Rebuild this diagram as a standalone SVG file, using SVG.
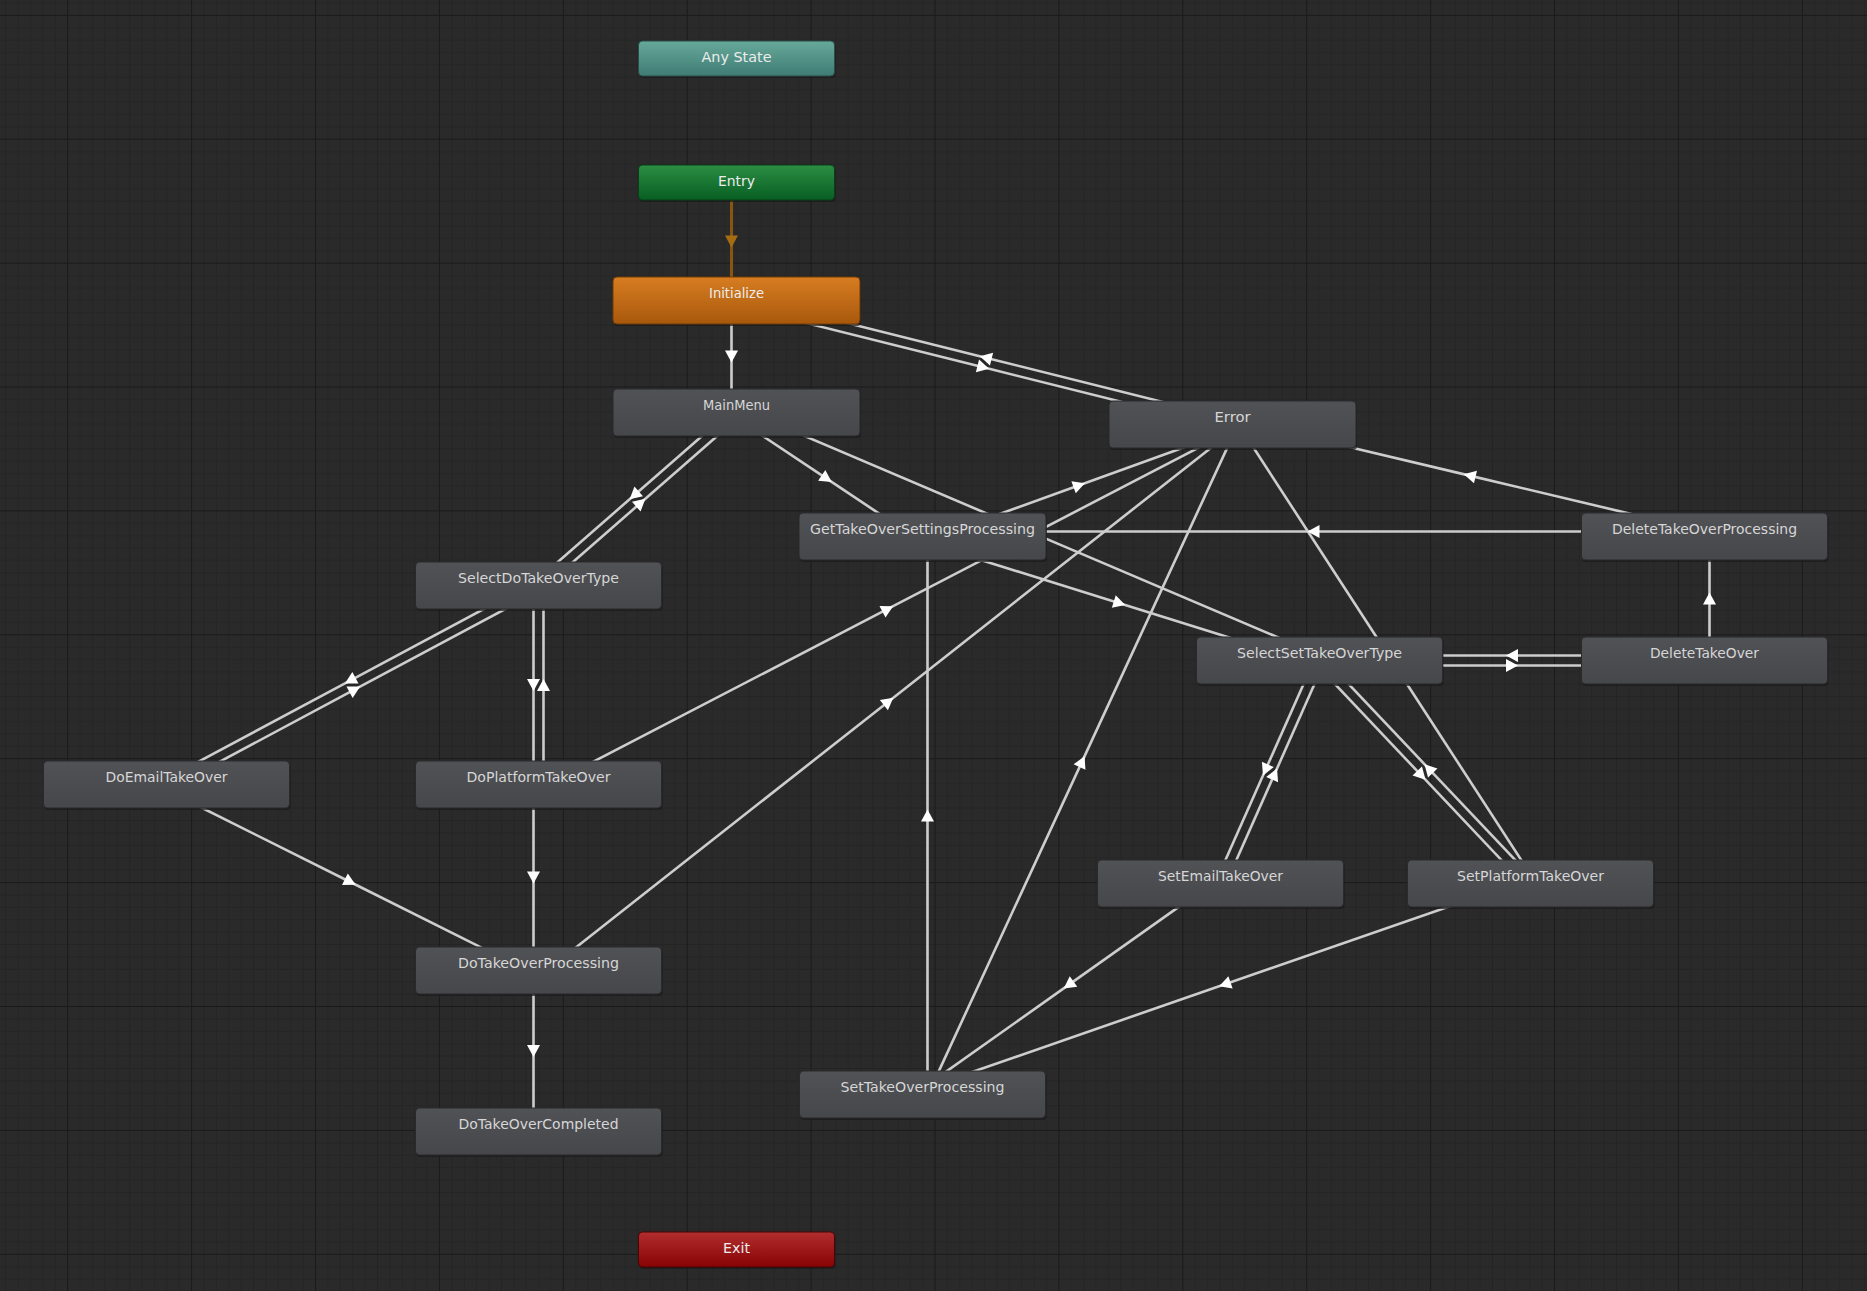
<svg xmlns="http://www.w3.org/2000/svg" width="1867" height="1291" viewBox="0 0 1867 1291">
  <defs>
    <!-- editor grid: major cell 123.9px, ten minor cells inside -->
    <pattern id="grid" patternUnits="userSpaceOnUse" x="67.2" y="14.8" width="123.9" height="123.9">
      <rect width="123.9" height="123.9" fill="#2a2a2a"/>
      <path d="M12.89,0V123.9M25.28,0V123.9M37.67,0V123.9M50.06,0V123.9M62.45,0V123.9M74.84,0V123.9M87.23,0V123.9M99.62,0V123.9M112.01,0V123.9M0,12.89H123.9M0,25.28H123.9M0,37.67H123.9M0,50.06H123.9M0,62.45H123.9M0,74.84H123.9M0,87.23H123.9M0,99.62H123.9M0,112.01H123.9" stroke="#242424" stroke-width="1"/>
      <path d="M0.5,0V123.9M0,0.5H123.9" stroke="#1a1a1a" stroke-width="1"/>
    </pattern>
    <linearGradient id="g-state" x1="0" y1="0" x2="0" y2="1">
      <stop offset="0" stop-color="#515256"/>
      <stop offset="1" stop-color="#46474b"/>
    </linearGradient>
    <linearGradient id="g-any" x1="0" y1="0" x2="0" y2="1">
      <stop offset="0" stop-color="#66a99a"/>
      <stop offset="1" stop-color="#3f7c74"/>
    </linearGradient>
    <linearGradient id="g-entry" x1="0" y1="0" x2="0" y2="1">
      <stop offset="0" stop-color="#2c8d43"/>
      <stop offset="1" stop-color="#075f23"/>
    </linearGradient>
    <linearGradient id="g-default" x1="0" y1="0" x2="0" y2="1">
      <stop offset="0" stop-color="#d77d22"/>
      <stop offset="1" stop-color="#a8580c"/>
    </linearGradient>
    <linearGradient id="g-exit" x1="0" y1="0" x2="0" y2="1">
      <stop offset="0" stop-color="#b22e2e"/>
      <stop offset="1" stop-color="#880303"/>
    </linearGradient>
    <marker id="arrow" viewBox="-7 -7 14 14" markerWidth="14" markerHeight="14" refX="0" refY="0" orient="auto" markerUnits="userSpaceOnUse">
      <path d="M6,0 L-6,-6.5 L-6,6.5 Z" fill="#ffffff"/>
    </marker>
    <marker id="arrow-entry" viewBox="-7 -7 14 14" markerWidth="14" markerHeight="14" refX="0" refY="0" orient="auto" markerUnits="userSpaceOnUse">
      <path d="M6,0 L-6,-6.5 L-6,6.5 Z" fill="#a66c12"/>
    </marker>
  </defs>
  <style>
    .edge { fill: none; stroke: #cdcdcd; stroke-width: 2.6; marker-mid: url(#arrow); }
    .edge-entry { fill: none; stroke: #875710; stroke-width: 3; marker-mid: url(#arrow-entry); }
    .shadow { fill: #1a1a1a; opacity: 0.7; }
    .state { fill: url(#g-state); stroke: #2a2a2c; stroke-width: 1; }
    .label { font-family: "DejaVu Sans", "Liberation Sans", sans-serif; font-size: 13.5px; fill: #d6d6d6; text-anchor: middle; }
    .label-light { fill: #ececec; }
  </style>

  <rect width="1867" height="1291" fill="url(#grid)"/>

  <g id="connectors">
    <path class="edge-entry" d="M731.5,182.5 L731.5,241.5 L731.5,300.5"/>
    <path class="edge" d="M731.5,300.5 L731.5,356.5 L731.5,412.5"/>
    <path class="edge" d="M735.29,305.35 L983.29,367.35 L1231.29,429.35"/>
    <path class="edge" d="M1233.71,419.65 L985.71,357.65 L737.71,295.65"/>
    <path class="edge" d="M733.21,408.74 L634.21,495.24 L535.21,581.74"/>
    <path class="edge" d="M541.79,589.27 L640.79,502.77 L739.79,416.27"/>
    <path class="edge" d="M733.73,416.66 L826.73,478.66 L919.73,540.66"/>
    <path class="edge" d="M1321.46,655.9 L1029.96,531.9 L738.46,407.9"/>
    <path class="edge" d="M924.2,541.2 L1079.2,485.2 L1234.2,429.2"/>
    <path class="edge" d="M540.8,788.94 L887.8,608.94 L1234.8,428.94"/>
    <path class="edge" d="M541.59,974.43 L888.59,701.43 L1235.59,428.43"/>
    <path class="edge" d="M927.04,1096.6 L1082.04,761.6 L1237.04,426.6"/>
    <path class="edge" d="M1534.69,880.78 L1385.69,651.28 L1236.69,421.78"/>
    <path class="edge" d="M1704.5,531.5 L1313.5,531.5 L922.5,531.5"/>
    <path class="edge" d="M1705.65,531.63 L1469.65,475.63 L1233.65,419.63"/>
    <path class="edge" d="M1709.5,660.5 L1709.5,598.5 L1709.5,536.5"/>
    <path class="edge" d="M1319.5,665.5 L1512,665.5 L1704.5,665.5"/>
    <path class="edge" d="M1704.5,655.5 L1512,655.5 L1319.5,655.5"/>
    <path class="edge" d="M921,541.27 L1119.5,603.27 L1318,665.27"/>
    <path class="edge" d="M1314.93,658.47 L1265.43,769.97 L1215.93,881.47"/>
    <path class="edge" d="M1225.07,885.53 L1274.57,774.03 L1324.07,662.53"/>
    <path class="edge" d="M1315.87,663.94 L1421.37,775.44 L1526.87,886.94"/>
    <path class="edge" d="M1534.13,880.06 L1428.63,768.56 L1323.13,657.06"/>
    <path class="edge" d="M1217.61,879.42 L1068.61,984.92 L919.61,1090.42"/>
    <path class="edge" d="M1528.86,878.78 L1224.86,984.28 L920.86,1089.78"/>
    <path class="edge" d="M927.5,1094.5 L927.5,815.5 L927.5,536.5"/>
    <path class="edge" d="M536.14,581.09 L350.14,680.59 L164.14,780.09"/>
    <path class="edge" d="M168.86,788.91 L354.86,689.41 L540.86,589.91"/>
    <path class="edge" d="M533.5,585.5 L533.5,685 L533.5,784.5"/>
    <path class="edge" d="M543.5,784.5 L543.5,685 L543.5,585.5"/>
    <path class="edge" d="M164.26,788.97 L350.26,881.97 L536.26,974.97"/>
    <path class="edge" d="M533.5,784.5 L533.5,877.5 L533.5,970.5"/>
    <path class="edge" d="M533.5,970.5 L533.5,1051 L533.5,1131.5"/>
  </g>

  <g id="node-any-state">
    <rect class="shadow" x="639.5" y="43" width="196" height="35" rx="4"/>
    <rect x="638.5" y="41" width="196" height="35" rx="4" fill="url(#g-any)" stroke="#2c4d48"/>
    <text class="label label-light" x="736.5" y="62" textLength="70" lengthAdjust="spacingAndGlyphs">Any State</text>
  </g>
  <g id="node-entry">
    <rect class="shadow" x="639.5" y="167" width="196" height="35" rx="4"/>
    <rect x="638.5" y="165" width="196" height="35" rx="4" fill="url(#g-entry)" stroke="#0a3f18"/>
    <text class="label label-light" x="736.5" y="186" textLength="37" lengthAdjust="spacingAndGlyphs">Entry</text>
  </g>
  <g id="node-initialize">
    <rect class="shadow" x="614" y="279" width="247" height="47" rx="4"/>
    <rect x="613" y="277" width="247" height="47" rx="4" fill="url(#g-default)" stroke="#6e3a08"/>
    <text class="label label-light" x="736.5" y="298" textLength="55" lengthAdjust="spacingAndGlyphs">Initialize</text>
  </g>
  <g id="node-main-menu">
    <rect class="shadow" x="614" y="391" width="247" height="47" rx="4"/>
    <rect class="state" x="613" y="389" width="247" height="47" rx="4"/>
    <text class="label" x="736.5" y="410" textLength="67" lengthAdjust="spacingAndGlyphs">MainMenu</text>
  </g>
  <g id="node-error">
    <rect class="shadow" x="1110" y="403" width="247" height="47" rx="4"/>
    <rect class="state" x="1109" y="401" width="247" height="47" rx="4"/>
    <text class="label" x="1232.5" y="422" textLength="36" lengthAdjust="spacingAndGlyphs">Error</text>
  </g>
  <g id="node-get-takeover-settings-processing">
    <rect class="shadow" x="800" y="515" width="247" height="47" rx="4"/>
    <rect class="state" x="799" y="513" width="247" height="47" rx="4"/>
    <text class="label" x="922.5" y="534" textLength="225" lengthAdjust="spacingAndGlyphs">GetTakeOverSettingsProcessing</text>
  </g>
  <g id="node-select-do-takeover-type">
    <rect class="shadow" x="416.5" y="564" width="246" height="47" rx="4"/>
    <rect class="state" x="415.5" y="562" width="246" height="47" rx="4"/>
    <text class="label" x="538.5" y="583" textLength="161" lengthAdjust="spacingAndGlyphs">SelectDoTakeOverType</text>
  </g>
  <g id="node-do-email-takeover">
    <rect class="shadow" x="44.5" y="763" width="246" height="47" rx="4"/>
    <rect class="state" x="43.5" y="761" width="246" height="47" rx="4"/>
    <text class="label" x="166.5" y="782" textLength="122" lengthAdjust="spacingAndGlyphs">DoEmailTakeOver</text>
  </g>
  <g id="node-do-platform-takeover">
    <rect class="shadow" x="416.5" y="763" width="246" height="47" rx="4"/>
    <rect class="state" x="415.5" y="761" width="246" height="47" rx="4"/>
    <text class="label" x="538.5" y="782" textLength="144" lengthAdjust="spacingAndGlyphs">DoPlatformTakeOver</text>
  </g>
  <g id="node-do-takeover-processing">
    <rect class="shadow" x="416.5" y="949" width="246" height="47" rx="4"/>
    <rect class="state" x="415.5" y="947" width="246" height="47" rx="4"/>
    <text class="label" x="538.5" y="968" textLength="161" lengthAdjust="spacingAndGlyphs">DoTakeOverProcessing</text>
  </g>
  <g id="node-do-takeover-completed">
    <rect class="shadow" x="416.5" y="1110" width="246" height="47" rx="4"/>
    <rect class="state" x="415.5" y="1108" width="246" height="47" rx="4"/>
    <text class="label" x="538.5" y="1129" textLength="160" lengthAdjust="spacingAndGlyphs">DoTakeOverCompleted</text>
  </g>
  <g id="node-set-takeover-processing">
    <rect class="shadow" x="800.5" y="1073" width="246" height="47" rx="4"/>
    <rect class="state" x="799.5" y="1071" width="246" height="47" rx="4"/>
    <text class="label" x="922.5" y="1092" textLength="164" lengthAdjust="spacingAndGlyphs">SetTakeOverProcessing</text>
  </g>
  <g id="node-delete-takeover-processing">
    <rect class="shadow" x="1582.5" y="515" width="246" height="47" rx="4"/>
    <rect class="state" x="1581.5" y="513" width="246" height="47" rx="4"/>
    <text class="label" x="1704.5" y="534" textLength="185" lengthAdjust="spacingAndGlyphs">DeleteTakeOverProcessing</text>
  </g>
  <g id="node-delete-takeover">
    <rect class="shadow" x="1582.5" y="639" width="246" height="47" rx="4"/>
    <rect class="state" x="1581.5" y="637" width="246" height="47" rx="4"/>
    <text class="label" x="1704.5" y="658" textLength="109" lengthAdjust="spacingAndGlyphs">DeleteTakeOver</text>
  </g>
  <g id="node-select-set-takeover-type">
    <rect class="shadow" x="1197.5" y="639" width="246" height="47" rx="4"/>
    <rect class="state" x="1196.5" y="637" width="246" height="47" rx="4"/>
    <text class="label" x="1319.5" y="658" textLength="165" lengthAdjust="spacingAndGlyphs">SelectSetTakeOverType</text>
  </g>
  <g id="node-set-email-takeover">
    <rect class="shadow" x="1098.5" y="862" width="246" height="47" rx="4"/>
    <rect class="state" x="1097.5" y="860" width="246" height="47" rx="4"/>
    <text class="label" x="1220.5" y="881" textLength="125" lengthAdjust="spacingAndGlyphs">SetEmailTakeOver</text>
  </g>
  <g id="node-set-platform-takeover">
    <rect class="shadow" x="1408.5" y="862" width="246" height="47" rx="4"/>
    <rect class="state" x="1407.5" y="860" width="246" height="47" rx="4"/>
    <text class="label" x="1530.5" y="881" textLength="147" lengthAdjust="spacingAndGlyphs">SetPlatformTakeOver</text>
  </g>
  <g id="node-exit">
    <rect class="shadow" x="639.5" y="1234" width="196" height="35" rx="4"/>
    <rect x="638.5" y="1232" width="196" height="35" rx="4" fill="url(#g-exit)" stroke="#4a0505"/>
    <text class="label label-light" x="736.5" y="1253" textLength="27" lengthAdjust="spacingAndGlyphs">Exit</text>
  </g>
</svg>
